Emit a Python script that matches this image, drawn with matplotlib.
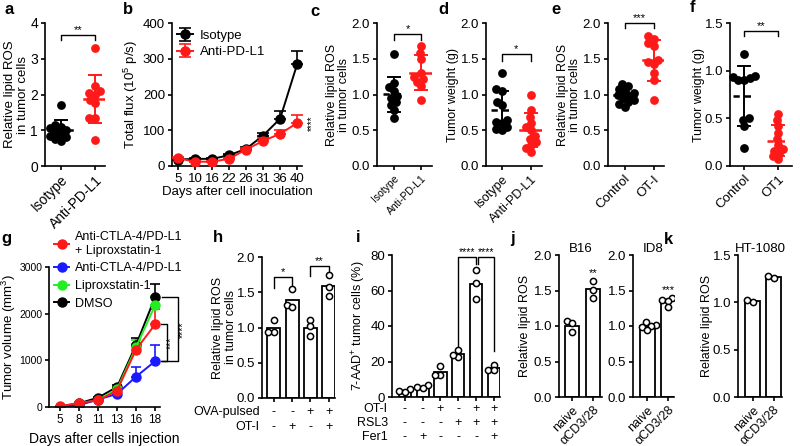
import numpy as np
import matplotlib
matplotlib.use("Agg")
from matplotlib import pyplot as plt
from matplotlib.lines import Line2D

plt.rcParams['font.family'] = ['Liberation Sans', 'DejaVu Sans']
plt.rcParams['axes.linewidth'] = 1.2
plt.rcParams['mathtext.default'] = 'regular'

RED = '#ff1a1a'
BLUE = '#1a1aff'
GREEN = '#22ee22'

# ---- data ----
a_groups = ['Isotype', 'Anti-PD-L1']
a_isotype = [1.72, 1.15, 1.1, 1.05, 1.0, 0.95, 0.9, 0.85, 0.8, 0.75, 0.7]
a_anti = [3.3, 2.25, 2.1, 2.05, 2.0, 1.85, 1.75, 1.35, 1.35, 0.72]

b_days = ['5', '10', '16', '22', '26', '31', '36', '40']
b_isotype = [18, 20, 20, 30, 48, 85, 132, 284]
b_isotype_err = [3, 3, 3, 4, 5, 8, 22, 38]
b_anti = [22, 12, 12, 20, 46, 70, 90, 120]
b_anti_err = [3, 2, 2, 3, 5, 8, 12, 22]

c_isotype = [1.57, 1.16, 1.1, 1.05, 0.98, 0.95, 0.9, 0.85, 0.78, 0.67]
c_anti = [1.68, 1.58, 1.5, 1.3, 1.25, 1.22, 1.18, 1.12, 0.92]

d_isotype = [1.3, 1.08, 1.05, 0.9, 0.85, 0.65, 0.62, 0.6, 0.55, 0.52, 0.5]
d_anti = [1.0, 0.78, 0.68, 0.6, 0.55, 0.5, 0.42, 0.38, 0.33, 0.3, 0.25, 0.2]

e_groups = ['Control', 'OT-I']
e_control = [1.15, 1.12, 1.08, 1.05, 1.02, 1.0, 0.98, 0.95, 0.92, 0.9, 0.87, 0.83]
e_ot1 = [1.82, 1.78, 1.72, 1.68, 1.48, 1.45, 1.42, 1.3, 1.2, 0.92]

f_groups = ['Control', 'OT1']
f_control = [1.17, 0.94, 0.93, 0.92, 0.9, 0.9, 0.5, 0.48, 0.42, 0.19]
f_ot1 = [0.55, 0.48, 0.42, 0.35, 0.28, 0.22, 0.18, 0.16, 0.13, 0.1, 0.07]

g_days = ['5', '8', '11', '13', '16', '18']
g_combo = [15, 90, 140, 350, 1230, 1770]
g_combo_err = [5, 15, 20, 40, 120, 340]
g_anti = [5, 40, 160, 280, 650, 980]
g_anti_err = [3, 10, 20, 30, 200, 340]
g_lipro = [10, 70, 150, 380, 1280, 2180]
g_lipro_err = [5, 10, 20, 40, 150, 200]
g_dmso = [10, 80, 200, 430, 1330, 2350]
g_dmso_err = [5, 15, 25, 50, 140, 280]

h_points = [[1.1, 0.93, 0.93], [1.55, 1.32, 1.29], [1.1, 1.02, 0.88], [1.74, 1.57, 1.44]]
h_ova = ['-', '-', '+', '+']
h_ot1 = ['-', '+', '-', '+']

i_points = [[4.3, 3.2, 2.8], [6.6, 5.6, 5.2], [17.2, 12.5, 12.5],
            [26.6, 22.8, 23.8], [71.5, 64.0, 55.2], [18.2, 15.4, 15.0]]
i_ot1 = ['-', '-', '+', '-', '+', '+']
i_rsl3 = ['-', '-', '-', '+', '+', '+']
i_fer1 = ['-', '+', '-', '-', '-', '+']

jk_groups = ['naive', 'αCD3/28']
j_b16 = [[1.07, 1.04, 0.91], [1.64, 1.51, 1.40]]
j_id8 = [[1.05, 1.02, 1.0, 0.98, 0.94], [1.4, 1.37, 1.35, 1.27]]
k_ht1080 = [[1.0, 1.02], [1.26, 1.28]]

W, H = 800, 446
fig = plt.figure(figsize=(W / 100, H / 100), dpi=100)


def add_ax(x0, x1, ytop, ybot):
    ax = fig.add_axes([x0 / W, 1 - ybot / H, (x1 - x0) / W, (ybot - ytop) / H])
    ax.spines[['top', 'right']].set_visible(False)
    ax.tick_params(length=3, width=1.2, labelsize=9.5, pad=2)
    return ax


def px_per_unit(ax):
    return ax.transData.transform((1, 0))[0] - ax.transData.transform((0, 0))[0]


def swarm_x(ax, vals, center, gap):
    ys = ax.transData.transform(np.column_stack([np.full(len(vals), center), vals]))[:, 1]
    unit = px_per_unit(ax)
    placed = []
    xs = np.zeros(len(vals))
    cands = sorted(np.arange(-25, 25.5, 0.5), key=abs)
    for i in np.argsort(vals):
        y = ys[i]
        for dx in cands:
            if all((dx - px) ** 2 + (y - py) ** 2 >= gap ** 2 for px, py in placed):
                break
        placed.append((dx, y))
        xs[i] = center + dx / unit
    return xs


def dot_panel(ax, groups, colors, dashed, xlim, ylim, yticks, fmt):
    ax.set_xlim(*xlim)
    ax.set_ylim(*ylim)
    ax.set_yticks(yticks)
    ax.set_yticklabels([fmt % t for t in yticks])
    ax.set_xticks(range(len(groups)))
    unit = px_per_unit(ax)
    for k, (vals, c, ds) in enumerate(zip(groups, colors, dashed)):
        xs = swarm_x(ax, vals, k, 5.8)
        ax.scatter(xs, vals, s=40, color=c, linewidths=0, zorder=3, clip_on=False)
        m, s = np.mean(vals), np.std(vals, ddof=1)
        cap, half = 6 / unit, 11 / unit
        ax.plot([k, k], [m - s, m + s], color=c, lw=1.4, zorder=4)
        for yy in (m - s, m + s):
            ax.plot([k - cap, k + cap], [yy, yy], color=c, lw=1.4, zorder=4)
        ax.plot([k - half, k + half], [m, m], color=c, lw=1.8,
                ls=(0, (2.5, 2)) if ds else '-', zorder=4)


def bracket(ax, x0, x1, y, dl, dr, text, size=8):
    ax.plot([x0, x0, x1, x1], [y - dl, y, y, y - dr], color='k', lw=1, clip_on=False)
    ax.text((x0 + x1) / 2, y, text, ha='center', va='bottom', fontsize=size, clip_on=False)


def bar_panel(ax, points, xlim, ylim, yticks, fmt):
    means = [np.mean(p) for p in points]
    ax.set_xlim(*xlim)
    ax.set_ylim(*ylim)
    ax.set_yticks(yticks)
    ax.set_yticklabels([fmt % t for t in yticks])
    ax.set_xticks(range(len(points)))
    ax.bar(range(len(points)), means, width=0.7, color='white', edgecolor='k', linewidth=1.3)
    for k, p in enumerate(points):
        xs = swarm_x(ax, p, k, 5.5)
        ax.scatter(xs, p, s=20, facecolor='white', edgecolor='k', linewidths=1.1, zorder=3)


def table_rows(ax, rows, labels, ys, label_x, size=9):
    for row, lab, y in zip(rows, labels, ys):
        ax.text(label_x, y, lab, transform=ax.transAxes, ha='right', va='center',
                fontsize=size)
        for k, sgn in enumerate(row):
            ax.text(k, y, sgn, transform=ax.get_xaxis_transform(), ha='center', va='center',
                    fontsize=size)


# ---- a ----
ax = add_ax(45, 105, 23, 166)
dot_panel(ax, [a_isotype, a_anti], ['k', RED], [False, False], (-0.47, 1.3), (0, 4),
          [0, 1, 2, 3, 4], '%d')
ax.tick_params(labelsize=10)
ax.set_xticklabels(a_groups, rotation=45, ha='right', rotation_mode='anchor', fontsize=10)
ax.set_ylabel('Relative lipid ROS\nin tumor cells', fontsize=9.5, labelpad=1, linespacing=1.05)
bracket(ax, 0, 1, 3.67, 0.15, 0.15, '**')

# ---- b ----
ax = add_ax(172, 302, 23, 166)
x = np.arange(len(b_days))
ax.errorbar(x, b_isotype, yerr=[np.zeros(len(x)), b_isotype_err], color='k', marker='o',
            ms=6.5, lw=1.4, capsize=4, elinewidth=1.2, capthick=1.2, label='Isotype', zorder=3)
ax.errorbar(x, b_anti, yerr=[np.zeros(len(x)), b_anti_err], color=RED, marker='o',
            ms=6.5, lw=1.4, capsize=4, elinewidth=1.2, capthick=1.2, label='Anti-PD-L1', zorder=4)
ax.set_xlim(-0.35, 7.29)
ax.set_ylim(0, 400)
ax.set_yticks([0, 100, 200, 300, 400])
ax.set_xticks(x)
ax.set_xticklabels(b_days)
ax.set_xlabel('Days after cell inoculation', fontsize=9.5, labelpad=1)
ax.set_ylabel('Total flux (10$^5$ p/s)', fontsize=9.5, labelpad=2)
ax.text(7.85, 120, '****', rotation=90, ha='center', va='center', fontsize=7, clip_on=False)
ax.legend(loc='upper left', bbox_to_anchor=(0.0, 0.99), frameon=False, fontsize=9.5,
          handlelength=1.2, handletextpad=0.5, labelspacing=0.3, borderaxespad=0)

# ---- c ----
ax = add_ax(377, 432, 23, 166)
dot_panel(ax, [c_isotype, c_anti], ['k', RED], [True, False], (-0.63, 1.4), (0, 2),
          [0, 0.5, 1, 1.5, 2], '%.1f')
ax.set_xticklabels(a_groups, rotation=45, ha='right', rotation_mode='anchor', fontsize=7.5)
ax.set_ylabel('Relative lipid ROS\nin tumor cells', fontsize=9, labelpad=1, linespacing=1.05)
bracket(ax, 0, 1, 1.84, 0.08, 0.08, '*')

# ---- d ----
ax = add_ax(486, 542, 23, 166)
dot_panel(ax, [d_isotype, d_anti], ['k', RED], [True, False], (-0.54, 1.39), (0, 2),
          [0, 0.5, 1, 1.5, 2], '%.1f')
ax.set_xticklabels(a_groups, rotation=45, ha='right', rotation_mode='anchor', fontsize=9)
ax.set_ylabel('Tumor weight (g)', fontsize=9, labelpad=1)
bracket(ax, 0, 1, 1.56, 0.09, 0.09, '*')

# ---- e ----
ax = add_ax(608, 664, 23, 166)
dot_panel(ax, [e_control, e_ot1], ['k', RED], [False, False], (-0.57, 1.36), (0, 2),
          [0, 0.5, 1, 1.5, 2], '%.1f')
ax.set_xticklabels(e_groups, rotation=45, ha='right', rotation_mode='anchor', fontsize=9.5)
ax.set_ylabel('Relative lipid ROS\nin tumor cells', fontsize=9, labelpad=1, linespacing=1.05)
bracket(ax, 0, 1, 2.0, 0.07, 0.07, '***')

# ---- f ----
ax = add_ax(730, 792, 23, 166)
dot_panel(ax, [f_control, f_ot1], ['k', RED], [True, True], (-0.42, 1.4), (0, 1.5),
          [0, 0.5, 1, 1.5], '%.1f')
ax.set_xticklabels(f_groups, rotation=45, ha='right', rotation_mode='anchor', fontsize=9.5)
ax.set_ylabel('Tumor weight (g)', fontsize=9, labelpad=0)
bracket(ax, 0, 1, 1.42, 0.06, 0.06, '**')

# ---- g ----
ax = add_ax(49, 160, 267, 407)
x = np.arange(len(g_days))
series = [(g_dmso, g_dmso_err, 'k'), (g_lipro, g_lipro_err, GREEN),
          (g_anti, g_anti_err, BLUE), (g_combo, g_combo_err, RED)]
for vals, err, c in series:
    ax.errorbar(x, vals, yerr=[np.zeros(len(x)), err], color=c, marker='o', ms=6.5, lw=1.4,
                capsize=3.5, elinewidth=1.2, capthick=1.2)
ax.set_xlim(-0.58, 5.26)
ax.set_ylim(0, 3000)
ax.set_yticks([0, 1000, 2000, 3000])
ax.set_xticks(x)
ax.set_xticklabels(g_days)
ax.tick_params(axis='y', labelsize=7.5, pad=1.5)
ax.tick_params(axis='x', labelsize=8.5)
ax.set_xlabel('Days after cells injection', fontsize=10, labelpad=4)
ax.set_ylabel('Tumor volume (mm$^3$)', fontsize=9.5, labelpad=1)
ax.plot([5.37, 6.2, 6.2, 5.37], [g_dmso[-1], g_dmso[-1], g_anti[-1], g_anti[-1]],
        color='k', lw=1, clip_on=False)
ax.plot([5.3, 5.63, 5.63, 5.3], [g_combo[-1], g_combo[-1], g_anti[-1], g_anti[-1]],
        color='k', lw=1, clip_on=False)
ax.text(6.45, (g_dmso[-1] + g_anti[-1]) / 2, '****', rotation=90, ha='center', va='center',
        fontsize=7.5, clip_on=False)
ax.text(5.85, (g_combo[-1] + g_anti[-1]) / 2, '***', rotation=90, ha='center', va='center',
        fontsize=7.5, clip_on=False)
handles = [Line2D([], [], color=c, marker='o', ms=6.5, lw=1.4) for c in (RED, BLUE, GREEN, 'k')]
fig.legend(handles, ['Anti-CTLA-4/PD-L1\n+ Liproxstatin-1', 'Anti-CTLA-4/PD-L1',
                     'Liproxstatin-1', 'DMSO'],
           loc='upper left', bbox_to_anchor=(54 / W, 1 - 231 / H), frameon=False, fontsize=9,
           handlelength=1.2, handletextpad=0.5, labelspacing=0.45, borderaxespad=0, borderpad=0)

# ---- h ----
ax = add_ax(262, 335, 257, 398)
bar_panel(ax, h_points, (-0.65, 3.35), (0, 2), [0, 0.5, 1, 1.5, 2], '%.1f')
ax.set_xticklabels([])
ax.set_ylabel('Relative lipid ROS\nin tumor cells', fontsize=9, labelpad=0, linespacing=1.05)
bracket(ax, 0, 1, 1.71, 0.15, 0.15, '*')
bracket(ax, 2, 3, 1.87, 0.14, 0.12, '**')
table_rows(ax, [h_ova, h_ot1], ['OVA-pulsed', 'OT-I'], [-0.1, -0.205], -0.03)

# ---- i ----
ax = add_ax(392, 500, 255, 397)
bar_panel(ax, i_points, (-0.73, 5.35), (0, 80), [0, 20, 40, 60, 80], '%d')
ax.set_xticklabels([])
ax.set_ylabel('7-AAD$^{+}$ tumor cells (%)', fontsize=9, labelpad=2)
ax.plot([3, 3, 4, 4], [27.5, 79, 79, 75], color='k', lw=1)
ax.plot([4.1, 4.1, 5, 5], [75, 79, 79, 25.7], color='k', lw=1)
ax.text(3.5, 79, '****', ha='center', va='bottom', fontsize=7.5)
ax.text(4.55, 79, '****', ha='center', va='bottom', fontsize=7.5)
table_rows(ax, [i_ot1, i_rsl3, i_fer1], ['OT-I', 'RSL3', 'Fer1'], [-0.085, -0.185, -0.285],
           -0.04)

# ---- j ----
for (x0, x1, xlim), data, title, star, sy in [
        ((559, 602, (-0.65, 1.45)), j_b16, 'B16', '**', 1.68),
        ((633, 674, (-0.7, 1.3)), j_id8, 'ID8', '***', 1.44)]:
    ax = add_ax(x0, x1, 255, 397)
    bar_panel(ax, data, xlim, (0, 2), [0, 0.5, 1, 1.5, 2], '%.1f')
    ax.set_xticklabels(jk_groups, rotation=45, ha='right', rotation_mode='anchor', fontsize=9)
    ax.set_title(title, fontsize=9.5, pad=2)
    ax.text(1, sy, star, ha='center', va='bottom', fontsize=8)
    if title == 'B16':
        ax.set_ylabel('Relative lipid ROS', fontsize=9, labelpad=2)

# ---- k ----
ax = add_ax(738, 782, 255, 397)
bar_panel(ax, k_ht1080, (-0.7, 1.4), (0, 1.5), [0, 0.5, 1, 1.5], '%.1f')
ax.set_xticklabels(jk_groups, rotation=45, ha='right', rotation_mode='anchor', fontsize=9)
ax.set_title('HT-1080', fontsize=9.5, pad=2)
ax.set_ylabel('Relative lipid ROS', fontsize=9, labelpad=0)

# ---- panel letters ----
for lab, px, py in [('a', 9, 10), ('b', 128, 10), ('c', 315, 12), ('d', 443, 9),
                    ('e', 556, 9), ('f', 692, 8), ('g', 6, 238), ('h', 218, 238),
                    ('i', 358, 237), ('j', 512, 238), ('k', 668, 240)]:
    fig.text(px / W, 1 - py / H, lab, fontsize=12, fontweight='bold', ha='center', va='center')

fig.savefig('out.png', dpi=100)
